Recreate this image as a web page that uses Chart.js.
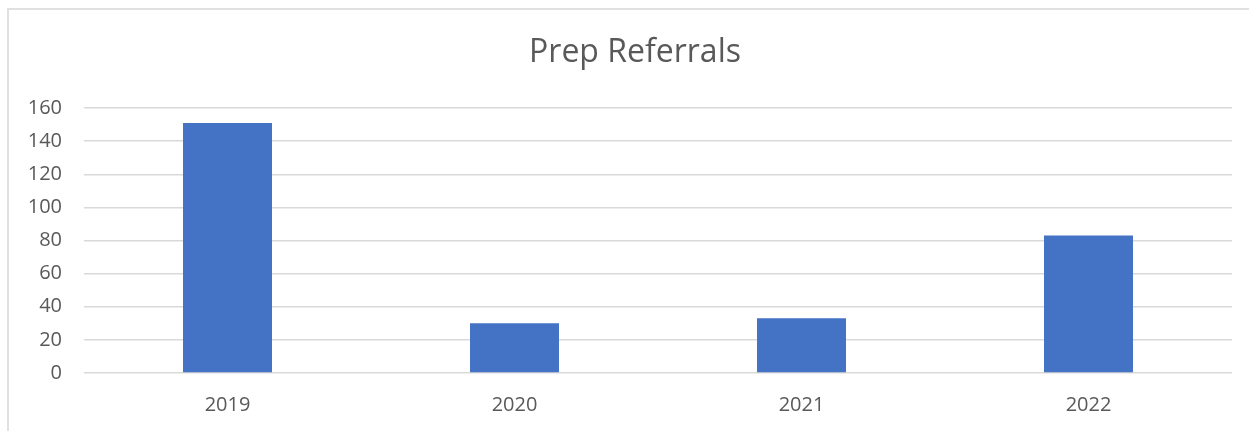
<!DOCTYPE html>
<html>
<head>
<meta charset="utf-8">
<script src="https://cdn.jsdelivr.net/npm/chart.js@4"></script>
<style>
  html, body { margin: 0; padding: 0; background: #fff; }
  #frame {
    position: absolute; left: 7px; top: 8px; width: 1300px; height: 500px;
    border-top: 2px solid #e0e0e0; border-left: 2px solid #e0e0e0;
  }
  #wrap { position: absolute; left: 0; top: 0; width: 1249px; height: 431px; }
</style>
</head>
<body>
<div id="frame"></div>
<div id="wrap"><canvas id="myChart"></canvas></div>
<script>
  // chart data
  const chartTitle = 'Prep Referrals';
  const years = ['2019', '2020', '2021', '2022'];
  const referrals = [151, 30, 33, 83];
  const yTicks = [0, 20, 40, 60, 80, 100, 120, 140, 160];

  const textColor = '#595959';
  const gridColor = '#d9d9d9';
  const fontFamily = '"Open Sans", Lato, sans-serif';

  // the built in title can only centre over the whole canvas, so draw it here
  // centred over the frame instead
  const frameTitle = {
    id: 'frameTitle',
    afterDraw: function(chart) {
      const ctx = chart.ctx;
      ctx.save();
      ctx.font = 'normal 32px ' + fontFamily;
      ctx.fillStyle = textColor;
      ctx.textAlign = 'center';
      ctx.textBaseline = 'middle';
      ctx.fillText(chartTitle, 635, 53);
      ctx.restore();
    }
  };

  var canvas = document.getElementById('myChart');
  var setup = {
    type: 'bar',
    data: {
      labels: years,
      datasets: [{
        label: chartTitle,
        data: referrals,
        backgroundColor: '#4472C4',
        borderWidth: 0,
        categoryPercentage: 1,
        barPercentage: 0.31
      }]
    },
    options: {
      responsive: true,
      maintainAspectRatio: false,
      animation: false,
      layout: { padding: { left: 0, right: 17, top: 108, bottom: 0 } },
      plugins: {
        legend: { display: false },
        tooltip: { enabled: false },
        title: { display: false }
      },
      scales: {
        x: {
          grid: { display: false, drawTicks: false },
          border: { display: false },
          ticks: {
            color: textColor,
            font: { family: fontFamily, size: 20 },
            padding: 20
          },
          afterFit: function(scale) { scale.height = 58; }
        },
        y: {
          min: 0,
          max: 160,
          afterBuildTicks: function(scale) {
            scale.ticks = yTicks.map(v => ({ value: v }));
          },
          grid: { color: gridColor, lineWidth: 1.5, drawTicks: false },
          border: { display: false },
          ticks: {
            color: textColor,
            font: { family: fontFamily, size: 20 },
            padding: 22
          },
          afterFit: function(scale) { scale.width = 84; }
        }
      }
    },
    plugins: [frameTitle]
  };

  var chart = new Chart(canvas, setup);
</script>
</body>
</html>
